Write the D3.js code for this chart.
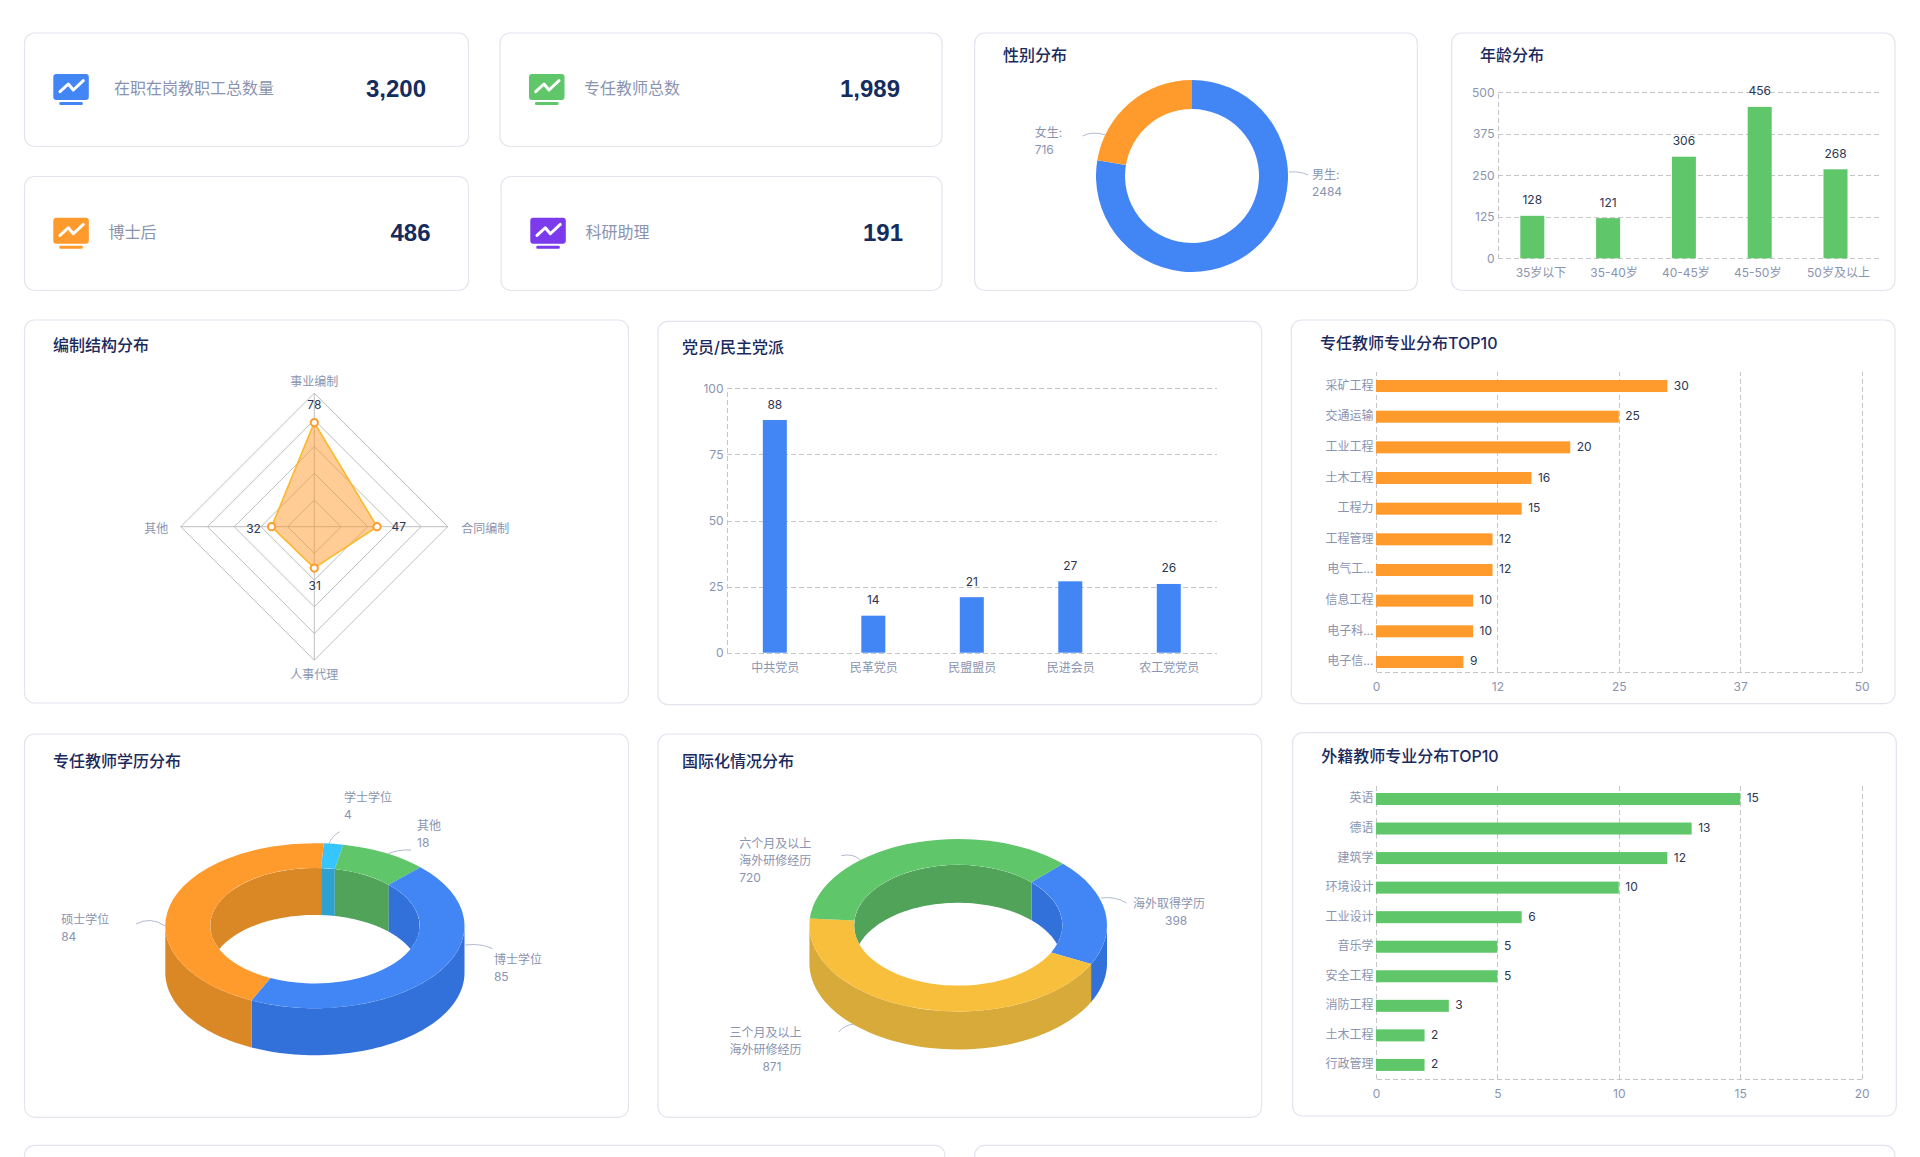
<!DOCTYPE html>
<html lang="zh-CN"><head><meta charset="utf-8">
<script src="https://cdn.jsdelivr.net/npm/d3@7/dist/d3.min.js"></script>
<style>
html,body{margin:0;padding:0;background:#fff;overflow:hidden}
svg{display:block}
text{font-family:Inter,"Noto Sans CJK SC",sans-serif}
.card{fill:#fff;stroke:#e2e4ee;stroke-width:1.2}
.title{font-size:16px;font-weight:500;fill:#1b2a5c;dominant-baseline:central}
.lab{font-size:12px;fill:#8a94b0}
.val{font-size:12px;fill:#2b3654}
.kl{font-size:16px;fill:#8a94b0;dominant-baseline:central}
.kv{font-size:24px;font-weight:700;fill:#152c5e;dominant-baseline:central;text-anchor:end;font-family:"Liberation Sans",sans-serif}
.axis text{font-size:12px;fill:#8a94b0;font-family:Inter,"Noto Sans CJK SC",sans-serif}
.axis line,.axis path{stroke:#c6c6c6;stroke-dasharray:5 3;shape-rendering:crispEdges;fill:none}
.bare line,.bare path{display:none}
.leader{fill:none;stroke:#b4bbce;stroke-width:1}
</style></head><body><svg id="c" width="1920" height="1157"></svg>
<script>
const kpiLabels=["在职在岗教职工总数量","专任教师总数","博士后","科研助理"];
const kpiValues=[3200,1989,486,191];
const kpiColors=["#4285f4","#5fc66a","#ff9a2c","#7c3aed"];

const genderCats=["男生","女生"];
const genderValues=[2484,716];
const genderColors=["#4285f4","#ff9a2c"];

const ageCats=["35岁以下","35-40岁","40-45岁","45-50岁","50岁及以上"];
const ageValues=[128,121,306,456,268];
const ageTicks=[0,125,250,375,500];

const radarCats=["事业编制","合同编制","人事代理","其他"];
const radarValues=[78,47,31,32];

const partyCats=["中共党员","民革党员","民盟盟员","民进会员","农工党党员"];
const partyValues=[88,14,21,27,26];
const partyTicks=[0,25,50,75,100];

const majorCats=["采矿工程","交通运输","工业工程","土木工程","工程力","工程管理","电气工...","信息工程","电子科...","电子信..."];
const majorValues=[30,25,20,16,15,12,12,10,10,9];
const majorTicks=[0,12.5,25,37.5,50];

const eduCats=["学士学位","其他","博士学位","硕士学位"];
const eduValues=[4,18,85,84];
const eduColors=["#36c5ff","#5fc66a","#4285f4","#ff9a2c"];
const eduSides=["#2ea1d0","#51a35a","#3271da","#da8726"];

const intlCats=[["海外取得学历"],["三个月及以上","海外研修经历"],["六个月及以上","海外研修经历"]];
const intlValues=[398,871,720];
const intlColors=["#4285f4","#f8bf3c","#5fc66a"];
const intlSides=["#3271da","#d7aa3a","#51a35a"];

const foreignCats=["英语","德语","建筑学","环境设计","工业设计","音乐学","安全工程","消防工程","土木工程","行政管理"];
const foreignValues=[15,13,12,10,6,5,5,3,2,2];
const foreignTicks=[0,5,10,15,20];

const svg=d3.select("#c");
function card(x0,y0,x1,y1,title,tx,ty){
  svg.append("rect").attr("class","card").attr("x",x0).attr("y",y0).attr("width",x1-x0).attr("height",y1-y0).attr("rx",10);
  if(title) svg.append("text").attr("class","title").attr("x",tx).attr("y",ty).text(title);
}
function leader(d){svg.append("path").attr("class","leader").attr("d",d);}
function multi(x,y,lines,cls,anchor){
  lines.forEach((l,i)=>svg.append("text").attr("class",cls||"lab").attr("x",Array.isArray(x)?x[i]:x).attr("y",y+i*17)
    .attr("dominant-baseline","central").attr("text-anchor",anchor||"start").text(l));
}

/* KPI cards */
const kpiBox=[[24.5,33,468.5,146.5,53.3,114,426],[500,33,942,146.5,529,584,900],[24.5,176.5,468.5,290.5,53.3,108.5,430.5],[501,176.5,942,290.5,530.3,585.5,903]];
kpiBox.forEach((b,i)=>{
  card(b[0],b[1],b[2],b[3]);
  const cy=(b[1]+b[3])/2, g=svg.append("g").attr("transform",`translate(${b[4]},${cy-15.75})`);
  g.append("rect").attr("width",35.5).attr("height",26).attr("rx",3).attr("fill",kpiColors[i]);
  g.append("rect").attr("x",6).attr("y",28).attr("width",23.5).attr("height",3).attr("rx",1.2).attr("fill",kpiColors[i]);
  g.append("path").attr("d",d3.line()([[6.7,17.7],[15,10],[20,16],[30,6.7]])).attr("fill","none").attr("stroke","#fff").attr("stroke-width",3).attr("stroke-linecap","round").attr("stroke-linejoin","round");
  svg.append("text").attr("class","kl").attr("x",b[5]).attr("y",cy-2).text(kpiLabels[i]);
  svg.append("text").attr("class","kv").attr("x",b[6]).attr("y",cy-1.5).text(d3.format(",")(kpiValues[i]));
});

/* gender donut */
card(974.7,33,1417.4,290.5,"性别分布",1003,55);
(function(){
  const pie=d3.pie().sort(null).value(d=>d)(genderValues);
  const arc=d3.arc().innerRadius(67).outerRadius(96);
  svg.append("g").attr("transform","translate(1192,176)").selectAll("path").data(pie).join("path").attr("d",arc).attr("fill",(d,i)=>genderColors[i]);
  multi(1312,174.7,[genderCats[0]+":",genderValues[0]]);
  multi(1034.7,132.7,[genderCats[1]+":",genderValues[1]]);
  leader("M1289,172Q1300,171 1308,175");
  leader("M1082.5,136Q1092,131 1105,134.7");
})();

function vbar(cfg){
  const y=d3.scaleLinear().domain(cfg.domain).range([cfg.y0,cfg.y1]);
  const x=d3.scaleBand().domain(cfg.cats).range(cfg.band);
  const bw=x.bandwidth();
  svg.append("g").attr("class","axis").attr("transform",`translate(${cfg.ax},0)`)
    .call(d3.axisLeft(y).tickValues(cfg.ticks).tickSize(-(cfg.ax1-cfg.ax)).tickSizeOuter(0).tickPadding(3))
    .call(g=>g.selectAll("text").attr("x",-3.5));
  svg.append("g").selectAll("rect").data(cfg.vals).join("rect")
    .attr("x",(d,i)=>x(cfg.cats[i])+bw/2-12).attr("width",24)
    .attr("y",d=>y(d)).attr("height",d=>cfg.y0-y(d)).attr("fill",cfg.color);
  svg.append("g").selectAll("text").data(cfg.vals).join("text").attr("class","val")
    .attr("text-anchor","middle").attr("dominant-baseline","central")
    .attr("x",(d,i)=>x(cfg.cats[i])+bw/2).attr("y",d=>y(d)-16).text(d=>d);
  const g=svg.append("g").attr("class","axis bare").attr("transform",`translate(0,${cfg.y0})`)
    .call(d3.axisBottom(x).tickSize(0));
  g.selectAll("text").attr("y",14.5).attr("dy",0).attr("dominant-baseline","central")
    .attr("dx",(d,i)=>cfg.nudge?cfg.nudge[i]:0.5);
}
card(1451.7,33,1895,290.5,"年龄分布",1480,55);
vbar({cats:ageCats,vals:ageValues,ticks:ageTicks,domain:[0,500],y0:258.3,y1:92.3,ax:1498,ax1:1880,band:[1494.4,1873.4],color:"#5fc66a",nudge:[8.7,6,2,-2,3]});

/* radar */
card(24.5,320,628.5,703,"编制结构分布",53,345.3);
(function(){
  const cx=314.3,cy=526.7,R=133.5;
  const r=d3.scaleLinear().domain([0,100]).range([0,R]);
  const ang=d3.scalePoint().domain(radarCats).range([0,Math.PI*1.5]);
  const radial=d3.lineRadial().curve(d3.curveLinearClosed);
  const g=svg.append("g").attr("transform",`translate(${cx},${cy})`);
  d3.range(20,101,20).forEach(v=>g.append("path").attr("d",radial(radarCats.map(c=>[ang(c),r(v)]))).attr("fill","none").attr("stroke","#bdbdbd"));
  radarCats.forEach(c=>g.append("path").attr("d",radial.curve(d3.curveLinear)([[0,0],[ang(c),R]])).attr("stroke","#bdbdbd").attr("fill","none"));
  radial.curve(d3.curveLinearClosed);
  const pts=radarValues.map((v,i)=>[ang(radarCats[i]),r(v)]);
  g.append("path").attr("d",radial(pts)).attr("fill","#ff9a2c").attr("fill-opacity",.5).attr("stroke","#fbb829").attr("stroke-width",1.6);
  g.selectAll("circle").data(pts).join("circle")
    .attr("cx",d=>d[1]*Math.sin(d[0])).attr("cy",d=>-d[1]*Math.cos(d[0])).attr("r",3.6)
    .attr("fill","#fff").attr("stroke","#ff9a2c").attr("stroke-width",2);
  const labPos=[[0,-145,"middle"],[147,1.3,"start"],[0,148,"middle"],[-146,1.3,"end"]];
  radarCats.forEach((c,i)=>g.append("text").attr("class","lab").attr("x",labPos[i][0]).attr("y",labPos[i][1]).attr("text-anchor",labPos[i][2]).attr("dominant-baseline","central").text(c));
  const valPos=[[0,-122],[84.5,0],[0.4,59],[-60.8,1.6]];
  radarValues.forEach((v,i)=>g.append("text").attr("class","val").attr("x",valPos[i][0]).attr("y",valPos[i][1]).attr("text-anchor","middle").attr("dominant-baseline","central").text(v));
})();

card(658,321.3,1261.6,704.7,"党员/民主党派",682,347.3);
vbar({cats:partyCats,vals:partyValues,ticks:partyTicks,domain:[0,100],y0:652.7,y1:388.3,ax:727,ax1:1217,band:[725.6,1218],color:"#4285f4"});

function hbar(cfg){
  const x=d3.scaleLinear().domain(cfg.domain).range([1376,1861.6]);
  const y=d3.scaleBand().domain(cfg.cats).range(cfg.band);
  const bw=y.bandwidth();
  const ax=svg.append("g").attr("class","axis").attr("transform",`translate(0,${cfg.bottom})`)
    .call(d3.axisBottom(x).tickValues(cfg.ticks).tickFormat(d=>Math.floor(d)).tickSize(-(cfg.bottom-cfg.top)).tickSizeOuter(0));
  ax.selectAll("text").attr("y",14.5).attr("dy",0).attr("dominant-baseline","central");
  svg.append("g").selectAll("rect").data(cfg.vals).join("rect")
    .attr("x",x(0)).attr("y",(d,i)=>y(cfg.cats[i])+bw/2-6).attr("height",12).attr("width",d=>x(d)-x(0)).attr("fill",cfg.color);
  svg.append("g").selectAll("text").data(cfg.vals).join("text").attr("class","val")
    .attr("x",d=>x(d)+6.5).attr("y",(d,i)=>y(cfg.cats[i])+bw/2-1).attr("dominant-baseline","central").text(d=>d);
  const g=svg.append("g").attr("class","axis bare").attr("transform","translate(1376,0)").call(d3.axisLeft(y).tickSize(0).tickPadding(2.5));
  g.selectAll("text").attr("dy",0).attr("y",-1).attr("dominant-baseline","central");
}
card(1291.4,320,1895,703.6,"专任教师专业分布TOP10",1320,343.3);
hbar({cats:majorCats,vals:majorValues,ticks:majorTicks,domain:[0,50],top:371.7,bottom:672.3,band:[370.7,677.3],color:"#ff9a2c"});

/* 3D donuts */
function donut3d(cfg,id){
  const {cx,cy,rx,ry,hole,depth,start,vals,colors,sides}=cfg;
  const k=ry/rx;
  const pie=d3.pie().sort(null).value(d=>d).startAngle(start*Math.PI/180).endAngle((start+360)*Math.PI/180)(vals);
  const band=(R,a,b)=>{
    const n=d3.range(0,61).map(i=>a+(b-a)*i/60);
    return d3.area().x(t=>cx+R*Math.sin(t)).y0(t=>cy-R*k*Math.cos(t)).y1(t=>cy-R*k*Math.cos(t)+depth)(n);
  };
  const P=Math.PI;
  /* outer wall: front half of the ring */
  pie.forEach((s,i)=>[0,2*P].forEach(off=>{
    const a=Math.max(s.startAngle,P/2+off),b=Math.min(s.endAngle,1.5*P+off);
    if(b>a) svg.append("path").attr("d",band(rx,a,b)).attr("fill",sides[i]);
  }));
  /* inner wall: back half, clipped by the ring's inner edge */
  const hr=rx*hole;
  svg.append("clipPath").attr("id",id).append("ellipse").attr("cx",cx).attr("cy",cy).attr("rx",hr).attr("ry",hr*k);
  const wall=svg.append("g").attr("clip-path",`url(#${id})`);
  pie.forEach((s,i)=>[-2*P,0,2*P].forEach(off=>{
    const a=Math.max(s.startAngle,-P/2+off),b=Math.min(s.endAngle,P/2+off);
    if(b>a) wall.append("path").attr("d",band(hr,a,b)).attr("fill",sides[i]);
  }));
  /* top face */
  const arc=d3.arc().innerRadius(hr).outerRadius(rx);
  svg.append("g").attr("transform",`translate(${cx},${cy}) scale(1,${k})`).selectAll("path").data(pie).join("path").attr("d",arc).attr("fill",(d,i)=>colors[i]);
}
card(24.5,734,628.5,1117.3,"专任教师学历分布",53,760.7);
donut3d({cx:314.9,cy:925.7,rx:149.6,ry:82.5,hole:.7,depth:47,start:3.4,vals:eduValues,colors:eduColors,sides:eduSides},"c1");
multi(344,797.7,[eduCats[0],eduValues[0]]);
multi(417,825.7,[eduCats[1],eduValues[1]]);
multi(493.9,959.7,[eduCats[2],eduValues[2]]);
multi(61.2,919.7,[eduCats[3],eduValues[3]]);
leader("M339.6,831.7Q331,837 329,844");
leader("M411,850Q397,849.5 387.8,854");
leader("M465.3,945Q481,943 492.6,948.7");
leader("M136,924Q150,916 165.3,926");

card(658,734,1261.6,1117.3,"国际化情况分布",682,760.7);
donut3d({cx:958.2,cy:925.2,rx:148.8,ry:86.3,hole:.7,depth:38,start:44.7,vals:intlValues,colors:intlColors,sides:intlSides},"c2");
multi([1133,1165],903.7,[intlCats[0][0],intlValues[0]]);
multi([729.4,729.4,762.4],1032.7,[intlCats[1][0],intlCats[1][1],intlValues[1]]);
multi(739.2,843,[intlCats[2][0],intlCats[2][1],intlValues[2]]);
leader("M1101,898Q1115,896 1126.5,903");
leader("M838.8,1032Q844,1025 854.3,1024");
leader("M841.2,855.7Q853,853 860.4,860");

card(1292.6,732.7,1896.3,1116,"外籍教师专业分布TOP10",1321.2,756);
hbar({cats:foreignCats,vals:foreignValues,ticks:foreignTicks,domain:[0,20],top:784,bottom:1079.3,band:[784.2,1079.7],color:"#5fc66a"});

/* next row, cut off by the window */
card(24.5,1145.3,945,1300);
card(974.7,1145.3,1895,1300);
</script></body></html>
